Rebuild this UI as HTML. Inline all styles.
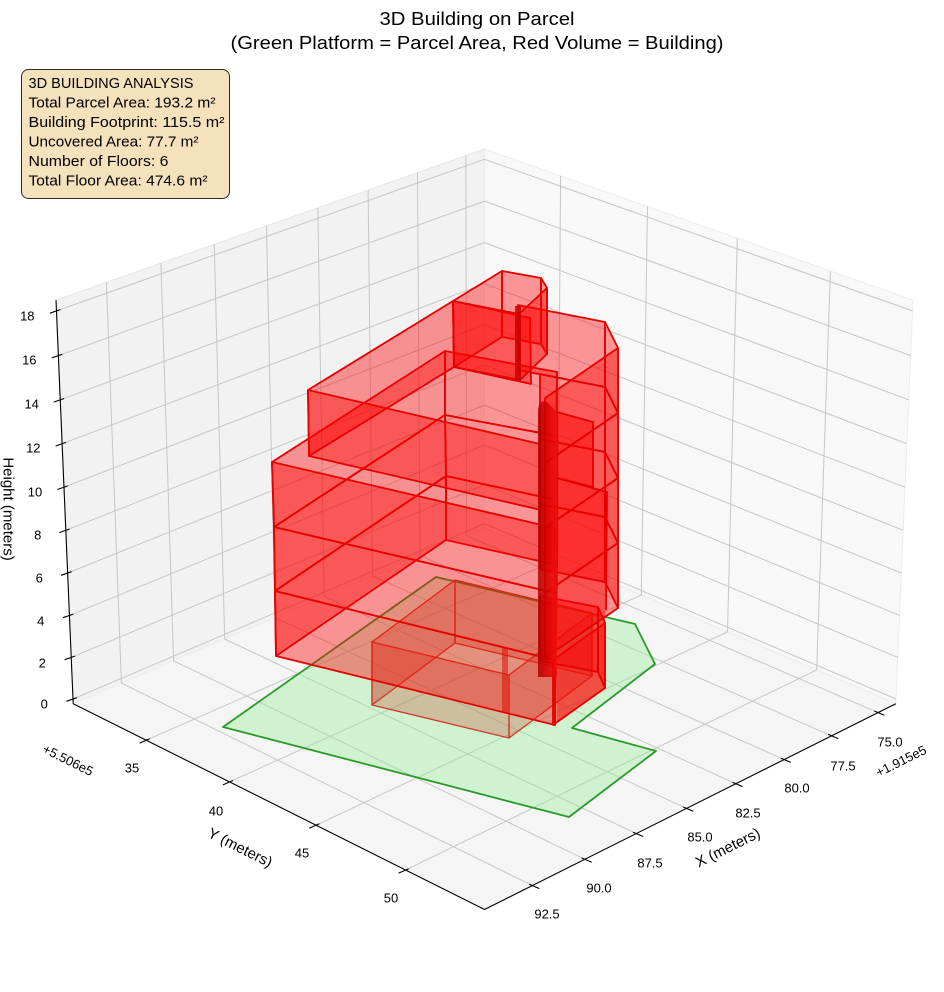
<!DOCTYPE html>
<html>
<head>
<meta charset="utf-8">
<style>
  html,body{margin:0;padding:0;background:#fff;}
  svg{display:block;}
  text{font-family:"Liberation Sans", sans-serif; fill:#000;}
</style>
</head>
<body>
<svg width="944" height="992" viewBox="0 0 944 992" xmlns="http://www.w3.org/2000/svg">
  <rect x="0" y="0" width="944" height="992" fill="#fff"/>

  <!-- panes -->
  <polygon points="73.2,703.7 484.5,528.1 484.5,149.1 56,300.1" fill="#f2f2f2" stroke="#e6e6e6" stroke-width="1"/>
  <polygon points="484.5,528.1 895.8,703.7 913,300.1 484.5,149.1" fill="#f8f8f8" stroke="#ececec" stroke-width="1"/>
  <polygon points="73.2,703.7 484.5,528.1 895.8,703.7 484.5,909.5" fill="#f5f5f5" stroke="#ececec" stroke-width="1"/>

  <!-- gridlines -->
  <g stroke="#c6c6c6" stroke-width="1" fill="none">
    <line x1="466.6" y1="535.7" x2="465.9" y2="155.6"/>
    <line x1="420.0" y1="555.6" x2="417.5" y2="172.7"/>
    <line x1="372.5" y1="575.9" x2="368.1" y2="190.1"/>
    <line x1="324.2" y1="596.5" x2="317.8" y2="207.8"/>
    <line x1="274.9" y1="617.6" x2="266.5" y2="225.9"/>
    <line x1="224.7" y1="639.0" x2="214.2" y2="244.3"/>
    <line x1="173.6" y1="660.8" x2="160.9" y2="263.1"/>
    <line x1="121.4" y1="683.1" x2="106.4" y2="282.3"/>
    <line x1="73.0" y1="699.0" x2="484.5" y2="523.7"/>
    <line x1="71.2" y1="657.4" x2="484.5" y2="484.5"/>
    <line x1="69.5" y1="615.4" x2="484.5" y2="445.0"/>
    <line x1="67.7" y1="573.0" x2="484.5" y2="405.1"/>
    <line x1="65.8" y1="530.3" x2="484.5" y2="365.0"/>
    <line x1="64.0" y1="487.2" x2="484.5" y2="324.5"/>
    <line x1="62.2" y1="443.7" x2="484.5" y2="283.7"/>
    <line x1="60.3" y1="399.8" x2="484.5" y2="242.6"/>
    <line x1="58.4" y1="355.6" x2="484.5" y2="201.1"/>
    <line x1="56.5" y1="310.9" x2="484.5" y2="159.3"/>
    <line x1="557.7" y1="559.3" x2="560.6" y2="175.9"/>
    <line x1="641.3" y1="595.0" x2="647.5" y2="206.5"/>
    <line x1="727.5" y1="631.8" x2="737.3" y2="238.2"/>
    <line x1="816.7" y1="669.9" x2="830.4" y2="271.0"/>
    <line x1="484.5" y1="523.7" x2="896.0" y2="699.0"/>
    <line x1="484.5" y1="484.5" x2="897.8" y2="657.4"/>
    <line x1="484.5" y1="445.0" x2="899.5" y2="615.4"/>
    <line x1="484.5" y1="405.1" x2="901.3" y2="573.0"/>
    <line x1="484.5" y1="365.0" x2="903.2" y2="530.3"/>
    <line x1="484.5" y1="324.5" x2="905.0" y2="487.2"/>
    <line x1="484.5" y1="283.7" x2="906.8" y2="443.7"/>
    <line x1="484.5" y1="242.6" x2="908.7" y2="399.8"/>
    <line x1="484.5" y1="201.1" x2="910.6" y2="355.6"/>
    <line x1="484.5" y1="159.3" x2="912.5" y2="310.9"/>
    <line x1="466.6" y1="535.7" x2="878.0" y2="712.6"/>
    <line x1="420.0" y1="555.6" x2="831.7" y2="735.9"/>
    <line x1="372.5" y1="575.9" x2="784.4" y2="759.7"/>
    <line x1="324.2" y1="596.5" x2="736.2" y2="783.9"/>
    <line x1="274.9" y1="617.6" x2="686.9" y2="808.6"/>
    <line x1="224.7" y1="639.0" x2="636.7" y2="833.8"/>
    <line x1="173.6" y1="660.8" x2="585.4" y2="859.6"/>
    <line x1="121.4" y1="683.1" x2="533.0" y2="885.9"/>
    <line x1="557.7" y1="559.3" x2="146.0" y2="740.3"/>
    <line x1="641.3" y1="595.0" x2="229.3" y2="782.1"/>
    <line x1="727.5" y1="631.8" x2="315.6" y2="825.4"/>
    <line x1="816.7" y1="669.9" x2="405.0" y2="870.3"/>
  </g>

  <!-- axis lines -->
  <g stroke="#000" stroke-width="1.1" fill="none">
    <line x1="73.2" y1="703.7" x2="56" y2="300.1"/>
    <line x1="73.2" y1="703.7" x2="484.5" y2="909.5"/>
    <line x1="895.8" y1="703.7" x2="484.5" y2="909.5"/>
    <line x1="874.3" y1="711.0" x2="884.4" y2="715.3"/>
    <line x1="828.0" y1="734.3" x2="838.1" y2="738.6"/>
    <line x1="780.7" y1="758.1" x2="790.8" y2="762.4"/>
    <line x1="732.5" y1="782.3" x2="742.6" y2="786.6"/>
    <line x1="683.2" y1="807.0" x2="693.3" y2="811.3"/>
    <line x1="633.0" y1="832.2" x2="643.1" y2="836.5"/>
    <line x1="581.7" y1="858.0" x2="591.8" y2="862.3"/>
    <line x1="529.3" y1="884.3" x2="539.4" y2="888.6"/>
    <line x1="149.7" y1="738.7" x2="139.6" y2="743.1"/>
    <line x1="233.0" y1="780.5" x2="222.9" y2="784.9"/>
    <line x1="319.3" y1="823.8" x2="309.2" y2="828.2"/>
    <line x1="408.7" y1="868.7" x2="398.6" y2="873.1"/>
    <line x1="76.8" y1="697.7" x2="66.4" y2="701.3"/>
    <line x1="75.0" y1="656.1" x2="64.6" y2="659.7"/>
    <line x1="73.3" y1="614.1" x2="62.9" y2="617.7"/>
    <line x1="71.5" y1="571.7" x2="61.1" y2="575.3"/>
    <line x1="69.6" y1="529.0" x2="59.2" y2="532.6"/>
    <line x1="67.8" y1="485.9" x2="57.4" y2="489.5"/>
    <line x1="66.0" y1="442.4" x2="55.6" y2="446.0"/>
    <line x1="64.1" y1="398.5" x2="53.7" y2="402.1"/>
    <line x1="62.2" y1="354.3" x2="51.8" y2="357.9"/>
    <line x1="60.3" y1="309.6" x2="49.9" y2="313.2"/>
  </g>

  <!-- parcel -->
  <polygon points="223,727 436,577 635,624 655,664 572,728 656,751 569,817" fill="#90ee90" fill-opacity="0.36" stroke="#2a9a2a" stroke-width="1.8" stroke-linejoin="round"/>

  <!-- ground floor box -->
  <g fill="rgb(200,70,45)" fill-opacity="0.3" stroke="rgb(205,60,40)" stroke-width="1.3" stroke-linejoin="round">
    <polygon points="372,705 509,738 509,675 372,642"/>
    <polygon points="509,738 592,676 592,613 509,675"/>
    <polygon points="592,676 455,643 455,580 592,613"/>
    <polygon points="455,643 372,705 372,642 455,580"/>
  </g>
  <rect x="502" y="647" width="6" height="66" fill="rgb(200,25,15)" fill-opacity="0.55"/>

  <!-- right wing saturation overlay -->
  <polygon points="557,412 593,422 593,487 606,492 605,688 557,722" fill="#ff0000" fill-opacity="0.45"/>

  <!-- building walls -->
  <g fill="#ff0000" fill-opacity="0.4" stroke="#e60000" stroke-width="1.8" stroke-linejoin="round">
    <!-- LB0 -->
    <polygon points="276,656 555,725 555,660 275,591"/>
    <polygon points="555,725 557,565 557,500 555,660"/>
    <polygon points="557,565 446,540 446,476 557,500"/>
    <polygon points="446,540 276,656 275,591 446,476"/>
    <!-- LB1 -->
    <polygon points="275,591 555,660 555,593 274,527"/>
    <polygon points="555,660 557,500 557,436 555,593"/>
    <polygon points="557,500 446,476 445,415 557,436"/>
    <polygon points="446,476 275,591 274,527 445,415"/>
    <!-- LB2 -->
    <polygon points="274,527 555,593 555,528 272,462"/>
    <polygon points="555,593 557,436 557,372 555,528"/>
    <polygon points="557,436 445,415 445,351 557,372"/>
    <polygon points="445,415 274,527 272,462 445,351"/>
    <!-- RW0 -->
    <polygon points="553,725 605,688 605,623 553,660"/>
    <polygon points="605,688 598,672 598,607 605,623"/>
    <polygon points="598,672 540,661 540,596 598,607"/>
    <!-- RW1 -->
    <polygon points="545,658 618,608 618,543 545,593"/>
    <polygon points="618,608 605,582 605,517 618,543"/>
    <polygon points="605,582 540,569 540,504 605,517"/>
    <!-- RW2 -->
    <polygon points="545,593 618,543 618,478 545,528"/>
    <polygon points="618,543 605,517 605,452 618,478"/>
    <polygon points="605,517 540,504 540,439 605,452"/>
    <!-- RW3 -->
    <polygon points="545,528 618,478 618,413 545,463"/>
    <polygon points="618,478 605,452 605,387 618,413"/>
    <polygon points="605,452 540,439 540,374 605,387"/>
    <!-- RW4 -->
    <polygon points="545,463 618,413 618,348 545,398"/>
    <polygon points="618,413 605,387 605,322 618,348"/>
    <polygon points="605,387 518,370 518,305 605,322"/>
    <!-- U -->
    <polygon points="309,456 541,510 540,444 308,390"/>
    <polygon points="531,384 454,367 453,301 530,318"/>
    <polygon points="454,367 309,456 308,390 453,301"/>
    <!-- T -->
    <polygon points="454,367 502,337 502,271 453,301"/>
    <polygon points="502,337 541,344 541,278 502,271"/>
    <polygon points="541,344 547,354 547,288 541,278"/>
    <polygon points="547,354 520,380 519,314 547,288"/>
    <polygon points="520,380 454,367 453,301 519,314"/>
  </g>

  <!-- extra edges -->
  <g stroke="#e60000" stroke-width="1.8" fill="none">
    <polyline points="557,412 593,422 593,487 557,478"/>
    <polyline points="557,478 607,492 606,610"/>
  </g>

  <!-- curved column -->
  <defs>
    <linearGradient id="col" x1="0" y1="0" x2="1" y2="0">
      <stop offset="0" stop-color="#b00000"/>
      <stop offset="0.5" stop-color="#d80000"/>
      <stop offset="1" stop-color="#f01010"/>
    </linearGradient>
  </defs>
  <path d="M538,677 L538,410 Q539,399 547,402 L557,412 L557,677 Z" fill="url(#col)" fill-opacity="0.85"/>
  <rect x="515" y="306" width="6" height="75" fill="#cc0000" fill-opacity="0.85"/>

  <!-- tick labels -->
  <g font-size="13" text-anchor="middle" dominant-baseline="central">
    <text x="27.3" y="316">18</text>
    <text x="29.3" y="360">16</text>
    <text x="31.7" y="404">14</text>
    <text x="33.3" y="448">12</text>
    <text x="35" y="492">10</text>
    <text x="37.7" y="535">8</text>
    <text x="39.3" y="578">6</text>
    <text x="40.7" y="621">4</text>
    <text x="42.3" y="663">2</text>
    <text x="44.3" y="704">0</text>

    <text x="132" y="768">35</text>
    <text x="216" y="811">40</text>
    <text x="302" y="853">45</text>
    <text x="391" y="898">50</text>

    <text x="890" y="742">75.0</text>
    <text x="843" y="766">77.5</text>
    <text x="797" y="788">80.0</text>
    <text x="748" y="813">82.5</text>
    <text x="700" y="837">85.0</text>
    <text x="650" y="863">87.5</text>
    <text x="599" y="888">90.0</text>
    <text x="547" y="914">92.5</text>

    <text x="68" y="760" transform="rotate(26.5 68 760)">+5.506e5</text>
    <text x="901" y="761" transform="rotate(-26.5 901 761)">+1.915e5</text>
  </g>

  <!-- axis labels -->
  <g font-size="15" text-anchor="middle" dominant-baseline="central">
    <text x="240" y="848" transform="rotate(26.5 240 848)">Y (meters)</text>
    <text x="728" y="848" transform="rotate(-26.5 728 848)">X (meters)</text>
    <text x="8" y="509" transform="rotate(90 8 509)">Height (meters)</text>
  </g>

  <!-- title -->
  <text x="477" y="25" font-size="18" text-anchor="middle" textLength="195" lengthAdjust="spacingAndGlyphs">3D Building on Parcel</text>
  <text x="477" y="49" font-size="18" text-anchor="middle" textLength="493" lengthAdjust="spacingAndGlyphs">(Green Platform = Parcel Area, Red Volume = Building)</text>

  <!-- info box -->
  <rect x="21.5" y="69.5" width="208" height="129" rx="7" ry="7" fill="#f6e1bd" stroke="#2a2a2a" stroke-width="1"/>
  <g font-size="14.5" dominant-baseline="central">
    <text x="28.5" y="84" textLength="165" lengthAdjust="spacingAndGlyphs">3D BUILDING ANALYSIS</text>
    <text x="28.5" y="103.5" textLength="187" lengthAdjust="spacingAndGlyphs">Total Parcel Area: 193.2 m²</text>
    <text x="28.5" y="123" textLength="196" lengthAdjust="spacingAndGlyphs">Building Footprint: 115.5 m²</text>
    <text x="28.5" y="142.5" textLength="170" lengthAdjust="spacingAndGlyphs">Uncovered Area: 77.7 m²</text>
    <text x="28.5" y="162" textLength="140" lengthAdjust="spacingAndGlyphs">Number of Floors: 6</text>
    <text x="28.5" y="181.5" textLength="179" lengthAdjust="spacingAndGlyphs">Total Floor Area: 474.6 m²</text>
  </g>
</svg>
</body>
</html>
